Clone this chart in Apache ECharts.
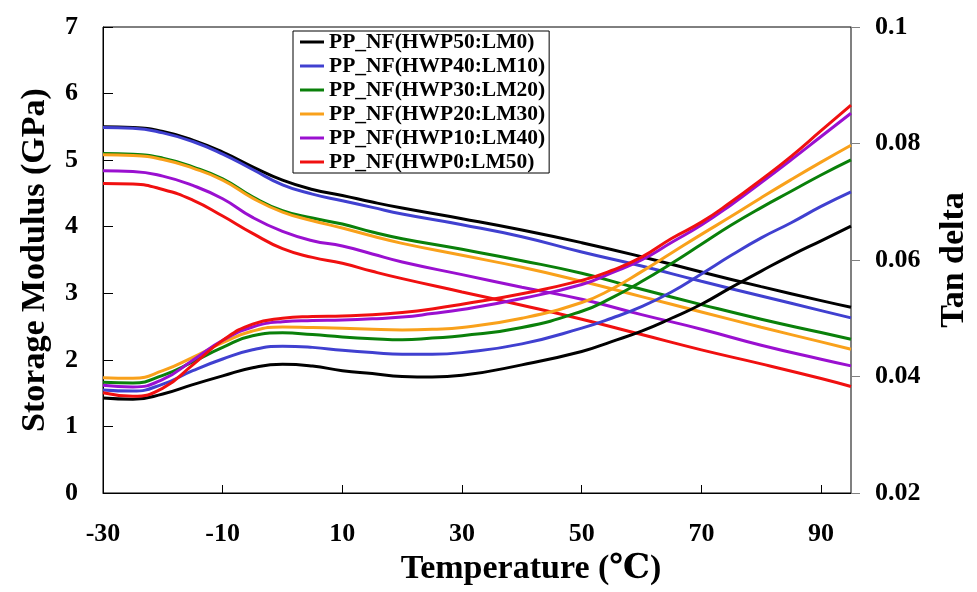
<!DOCTYPE html>
<html>
<head>
<meta charset="utf-8">
<script src="https://cdn.jsdelivr.net/npm/echarts@6/dist/echarts.min.js"></script>
<style>
  html, body { margin: 0; padding: 0; background: #fff; }
  #chart { width: 977px; height: 592px; }
</style>
</head>
<body>
<div id="chart"></div>
<script>
// ---- Data ----
const seriesNames = [
  'PP_NF(HWP50:LM0)',
  'PP_NF(HWP40:LM10)',
  'PP_NF(HWP30:LM20)',
  'PP_NF(HWP20:LM30)',
  'PP_NF(HWP10:LM40)',
  'PP_NF(HWP0:LM50)'
];
const seriesColors = ['#000000', '#4040d0', '#0a800a', '#f9a11b', '#9a10d0', '#f01010'];

// Storage modulus (GPa)
const tempModulus = [-30, -25, -20, -15, -10, -5, 0, 5, 10, 15, 20, 30, 40, 50, 60, 70, 80, 90, 95];
const modHWP50 = [5.50, 5.49, 5.43, 5.30, 5.12, 4.90, 4.70, 4.56, 4.47, 4.37, 4.28, 4.12, 3.95, 3.76, 3.55, 3.32, 3.10, 2.89, 2.79];
const modHWP40 = [5.49, 5.48, 5.41, 5.28, 5.09, 4.86, 4.63, 4.49, 4.39, 4.29, 4.19, 4.03, 3.85, 3.62, 3.41, 3.18, 2.96, 2.74, 2.63];
const modHWP30 = [5.10, 5.09, 5.03, 4.90, 4.72, 4.45, 4.24, 4.13, 4.04, 3.92, 3.82, 3.66, 3.49, 3.30, 3.06, 2.83, 2.61, 2.41, 2.31];
const modHWP20 = [5.08, 5.07, 5.01, 4.88, 4.70, 4.43, 4.22, 4.09, 3.98, 3.86, 3.75, 3.57, 3.39, 3.18, 2.95, 2.72, 2.49, 2.27, 2.16];
const modHWP10 = [4.84, 4.83, 4.76, 4.62, 4.42, 4.14, 3.93, 3.79, 3.71, 3.59, 3.47, 3.28, 3.09, 2.91, 2.68, 2.46, 2.22, 2.01, 1.91];
const modHWP0  = [4.65, 4.64, 4.56, 4.40, 4.16, 3.90, 3.67, 3.54, 3.45, 3.33, 3.22, 3.02, 2.82, 2.61, 2.38, 2.15, 1.94, 1.72, 1.60];

// Tan delta
const tempTan = [-30, -25, -20, -15, -10, -5, 0, 5, 10, 15, 20, 25, 30, 40, 50, 55, 60, 65, 70, 75, 80, 85, 90, 95];
const tanHWP50 = [0.0363, 0.0361, 0.0370, 0.0386, 0.0401, 0.0415, 0.0421, 0.0418, 0.0410, 0.0405, 0.0400, 0.0399, 0.0402, 0.0420, 0.0443, 0.0460, 0.0478, 0.0500, 0.0524, 0.0553, 0.0581, 0.0608, 0.0633, 0.0658];
const tanHWP40 = [0.0377, 0.0375, 0.0387, 0.0410, 0.0430, 0.0446, 0.0452, 0.0450, 0.0445, 0.0441, 0.0438, 0.0438, 0.0441, 0.0456, 0.0483, 0.0500, 0.0520, 0.0545, 0.0576, 0.0608, 0.0638, 0.0664, 0.0692, 0.0717];
const tanHWP30 = [0.0390, 0.0389, 0.0402, 0.0425, 0.0450, 0.0470, 0.0475, 0.0472, 0.0468, 0.0465, 0.0463, 0.0466, 0.0470, 0.0484, 0.0512, 0.0535, 0.0563, 0.0594, 0.0627, 0.0660, 0.0690, 0.0718, 0.0746, 0.0772];
const tanHWP20 = [0.0398, 0.0397, 0.0410, 0.0433, 0.0458, 0.0478, 0.0485, 0.0484, 0.0483, 0.0481, 0.0480, 0.0481, 0.0484, 0.0500, 0.0527, 0.0550, 0.0580, 0.0612, 0.0644, 0.0675, 0.0707, 0.0738, 0.0768, 0.0797];
const tanHWP10 = [0.0385, 0.0382, 0.0395, 0.0428, 0.0462, 0.0485, 0.0494, 0.0496, 0.0497, 0.0499, 0.0502, 0.0508, 0.0515, 0.0534, 0.0558, 0.0578, 0.0600, 0.0630, 0.0660, 0.0695, 0.0733, 0.0772, 0.0812, 0.0852];
const tanHWP0  = [0.0372, 0.0366, 0.0380, 0.0420, 0.0462, 0.0490, 0.0500, 0.0503, 0.0504, 0.0506, 0.0510, 0.0516, 0.0524, 0.0542, 0.0565, 0.0582, 0.0605, 0.0637, 0.0665, 0.0700, 0.0738, 0.0778, 0.0822, 0.0866];

const xTickValues = [-30, -10, 10, 30, 50, 70, 90];
const xAxisTitle = 'Temperature (℃)';
const yLeftTitle = 'Storage Modulus (GPa)';
const yRightTitle = 'Tan delta';

// ---- Build ----
const modulusSets = [modHWP50, modHWP40, modHWP30, modHWP20, modHWP10, modHWP0];
const tanSets = [tanHWP50, tanHWP40, tanHWP30, tanHWP20, tanHWP10, tanHWP0];
const pair = (xs, ys) => xs.map((x, i) => [x, ys[i]]);
const FONT = "'Liberation Serif', 'Times New Roman', 'DejaVu Serif', serif";

const series = [];
seriesNames.forEach((name, i) => {
  series.push({
    name, type: 'line', xAxisIndex: 0, yAxisIndex: 0,
    data: pair(tempModulus, modulusSets[i]),
    smooth: true, symbol: 'none',
    lineStyle: { color: seriesColors[i], width: 3 },
    itemStyle: { color: seriesColors[i] },
    z: 3
  });
});
seriesNames.forEach((name, i) => {
  series.push({
    name, type: 'line', xAxisIndex: 0, yAxisIndex: 1,
    data: pair(tempTan, tanSets[i]),
    smooth: true, symbol: 'none',
    lineStyle: { color: seriesColors[i], width: 3 },
    itemStyle: { color: seriesColors[i] },
    z: 3
  });
});

const chart = echarts.init(document.getElementById('chart'), null, { renderer: 'canvas' });
chart.setOption({
  animation: false,
  backgroundColor: '#ffffff',
  grid: { left: 103, right: 126, top: 27, bottom: 99, containLabel: false, outerBoundsMode: 'none',
          show: true, borderColor: '#000', borderWidth: 1, backgroundColor: 'transparent' },
  legend: {
    data: seriesNames,
    orient: 'vertical',
    left: 293, top: 31,
    padding: [0, 4, 0, 7],
    itemGap: 2,
    itemWidth: 24, itemHeight: 3,
    icon: 'rect',
    backgroundColor: '#fff',
    borderColor: '#000', borderWidth: 1,
    textStyle: { fontFamily: FONT, fontWeight: 'bold', fontSize: 21.5, color: '#000', lineHeight: 22 }
  },
  xAxis: {
    type: 'value', min: -30, max: 95,
    name: xAxisTitle, nameLocation: 'middle', nameGap: 48,
    nameTextStyle: { fontFamily: FONT, fontWeight: 'bold', fontSize: 34, color: '#000', padding: [0, 0, 0, 108] },
    axisLine: { show: true, onZero: false, lineStyle: { color: '#000', width: 1 } },
    axisTick: { show: true, inside: true, length: 8, lineStyle: { color: '#000' }, customValues: xTickValues },
    axisLabel: { show: true, margin: 28, fontFamily: FONT, fontWeight: 'bold', fontSize: 26, color: '#000', customValues: xTickValues },
    splitLine: { show: false }
  },
  yAxis: [
    {
      type: 'value', min: 0, max: 7, interval: 1, position: 'left',
      name: yLeftTitle, nameLocation: 'middle', nameGap: 51, nameRotate: 90,
      nameTextStyle: { fontFamily: FONT, fontWeight: 'bold', fontSize: 34, color: '#000' },
      axisLine: { show: true, onZero: false, lineStyle: { color: '#000', width: 1 } },
      axisTick: { show: true, inside: true, length: 10, lineStyle: { color: '#000' } },
      axisLabel: { margin: 25, fontFamily: FONT, fontWeight: 'bold', fontSize: 26, color: '#000' },
      splitLine: { show: false }
    },
    {
      type: 'value', min: 0.02, max: 0.1, interval: 0.02, position: 'right',
      name: yRightTitle, nameLocation: 'middle', nameGap: 86, nameRotate: 90,
      nameTextStyle: { fontFamily: FONT, fontWeight: 'bold', fontSize: 34, color: '#000' },
      axisLine: { show: true, onZero: false, lineStyle: { color: '#808080', width: 1 } },
      axisTick: { show: true, inside: false, length: 9, lineStyle: { color: '#808080' } },
      axisLabel: { margin: 24, fontFamily: FONT, fontWeight: 'bold', fontSize: 26, color: '#000',
        formatter: v => String(+v.toFixed(2)) },
      splitLine: { show: false }
    }
  ],
  series
});
</script>
</body>
</html>
